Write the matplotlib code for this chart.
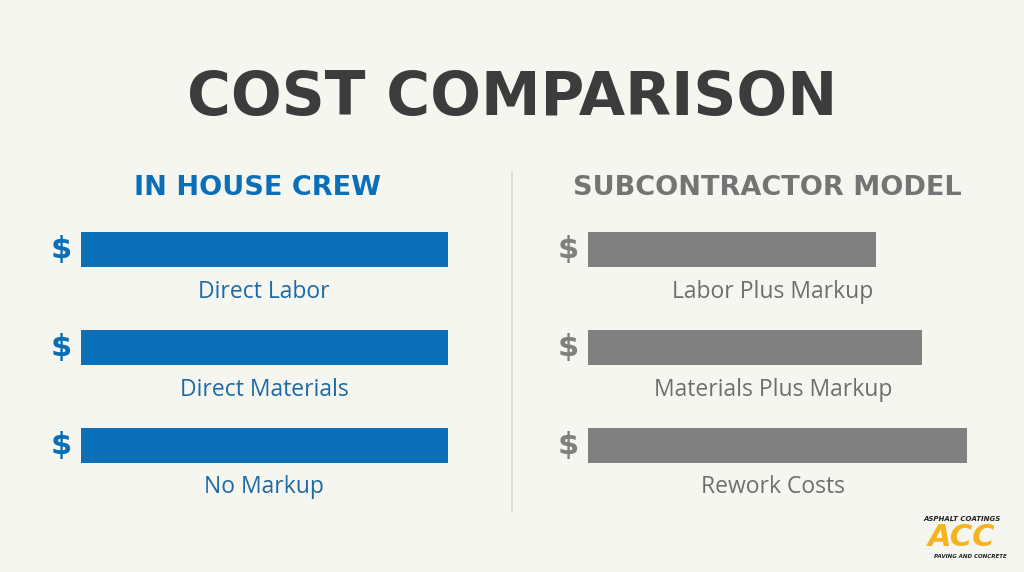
import matplotlib.pyplot as plt
from matplotlib.transforms import blended_transform_factory

# relative cost (in-house = 100)
inhouse_labels = ['Direct Labor', 'Direct Materials', 'No Markup']
inhouse_values = [100, 100, 100]
sub_labels = ['Labor Plus Markup', 'Materials Plus Markup', 'Rework Costs']
sub_values = [78.5, 91.0, 103.3]

BG = '#f6f6f0'
BLUE = '#0b6fb7'
BLUE_TXT = '#1d6aa6'
GREY = '#808080'
GREY_TXT = '#6e6e6e'
HEAD_GREY = '#747474'

W, H = 1024, 572
fig = plt.figure(figsize=(W / 100, H / 100), dpi=100, facecolor=BG)


def fx(px):
    return px / W


def fy(py):
    return 1 - py / H


def panel(left_px, values, labels, color, txt_color, center_px, head, head_color):
    top, bottom = 200, 510
    ax = fig.add_axes([fx(left_px), fy(bottom), fx(420), (bottom - top) / H])
    ax.set_facecolor('none')
    step = 98.0
    pos = list(range(len(values)))
    ax.barh(pos, values, height=35 / step, color=color, left=0)
    ax.set_xlim(0, 420 / 367 * 100)
    ax.set_ylim((bottom - 249.5) / step, -(249.5 - top) / step)
    ax.axis('off')

    tr = blended_transform_factory(fig.transFigure, ax.transData)
    for i, lab in enumerate(labels):
        ax.text(fx(left_px - 20), i, '$', transform=tr, ha='center', va='center',
                fontsize=22, fontweight='bold', color=color, family='DejaVu Sans')
        ax.text(fx(center_px), i + 42 / step, lab, transform=tr, ha='center',
                va='center', fontsize=16.5, color=txt_color, family='Open Sans')
    fig.text(fx(center_px - 6), fy(188), head, ha='center', va='center',
             fontsize=19.5, fontweight='bold', color=head_color, family='DejaVu Sans')
    return ax


panel(81, inhouse_values, inhouse_labels, BLUE, BLUE_TXT, 264, 'IN HOUSE CREW', BLUE)
panel(588, sub_values, sub_labels, GREY, GREY_TXT, 773, 'SUBCONTRACTOR MODEL', HEAD_GREY)

fig.text(0.5, fy(98), 'COST COMPARISON', ha='center', va='center',
         fontsize=43, fontweight='bold', color='#3c3c3c', family='DejaVu Sans')

# divider
fig.add_artist(plt.Line2D([0.5, 0.5], [fy(172), fy(512)], color='#d9d9d4', lw=1.2))

# logo
fig.text(fx(962), fy(519), 'ASPHALT COATINGS', ha='center', va='center', fontsize=5,
         fontweight='bold', style='italic', color='#222222')
fig.text(fx(962), fy(538), 'ACC', ha='center', va='center', fontsize=22,
         fontweight='bold', style='italic', color='#f5b320')
fig.text(fx(970), fy(557), 'PAVING AND CONCRETE', ha='center', va='center', fontsize=4,
         fontweight='bold', style='italic', color='#222222')

fig.savefig('out.png', dpi=100, facecolor=BG)
